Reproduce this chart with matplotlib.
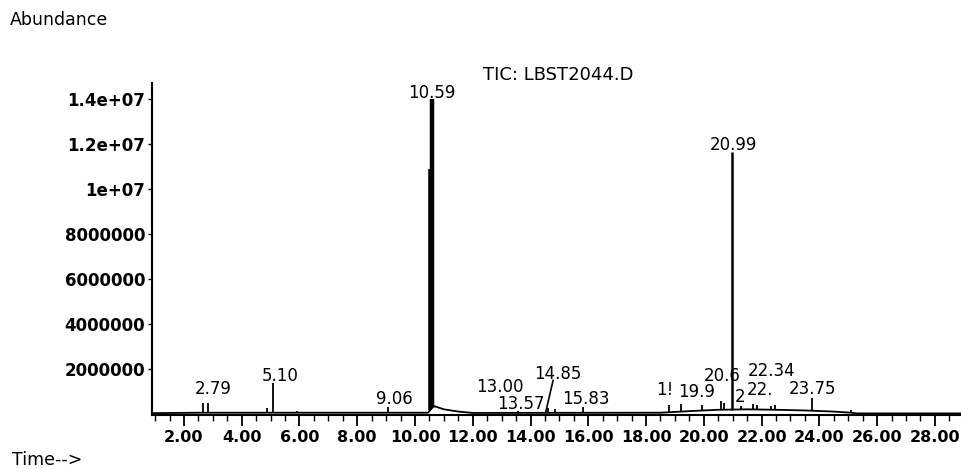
import numpy as np
import matplotlib
matplotlib.use("Agg")
import matplotlib.pyplot as plt
from matplotlib.ticker import MultipleLocator, FixedLocator

plt.rcParams['font.family'] = ['DejaVu Sans']

#-----------------------------------------------------------------------------
# Data (time in min, abundance in counts)
#-----------------------------------------------------------------------------
base_t = [0.9, 2.5, 5.0, 10.45, 10.65, 11.0, 11.5, 12.0, 18.5, 19.5, 20.5,
          21.5, 22.5, 23.5, 24.5, 25.1, 25.3, 28.94]
base_a = [0.03e6, 0.05e6, 0.05e6, 0.05e6, 0.35e6, 0.2e6, 0.1e6, 0.04e6,
          0.05e6, 0.12e6, 0.18e6, 0.2e6, 0.18e6, 0.15e6, 0.1e6, 0.05e6,
          0.02e6, 0.02e6]

peak_rt = [2.66, 2.83, 4.87, 5.10, 5.90, 9.06, 10.52, 10.59, 12.30, 13.00,
           13.57, 14.60, 14.85, 15.83, 18.80, 19.20, 19.95, 20.60, 20.70,
           20.99, 21.30, 21.70, 21.85, 22.34, 22.45, 23.75, 25.10]
peak_h = [0.48e6, 0.5e6, 0.28e6, 1.35e6, 0.12e6, 0.32e6, 10.9e6, 14.0e6,
          0.1e6, 0.1e6, 0.12e6, 0.25e6, 0.2e6, 0.3e6, 0.4e6, 0.45e6, 0.4e6,
          0.55e6, 0.5e6, 11.66e6, 0.35e6, 0.45e6, 0.4e6, 0.35e6, 0.4e6,
          0.72e6, 0.15e6]

# peak annotations (text, x, y) as printed on the report
label_txt = ["2.79", "5.10", "9.06", "10.59", "13.00", "13.57", "14.85",
             "15.83", "1!", "19.9", "2", "22.", "23.75", "20.6", "22.34",
             "20.99"]
label_x = [3.01, 5.33, 9.27, 10.59, 12.95, 13.65, 14.95, 15.92, 18.66,
           19.76, 21.25, 21.94, 23.78, 20.63, 22.36, 21.01]
label_y = [1.12e6, 1.70e6, 0.68e6, 14.28e6, 1.20e6, 0.45e6, 1.75e6, 0.68e6,
           1.08e6, 0.99e6, 0.77e6, 1.04e6, 1.12e6, 1.68e6, 1.92e6, 11.97e6]

ytick_vals = [2e6, 4e6, 6e6, 8e6, 10e6, 12e6, 14e6]
ytick_txt = ["2000000", "4000000", "6000000", "8000000", "1e+07", "1.2e+07",
             "1.4e+07"]
xtick_vals = [2, 4, 6, 8, 10, 12, 14, 16, 18, 20, 22, 24, 26, 28]

#-----------------------------------------------------------------------------
fig = plt.figure(figsize=(9.62, 4.69), dpi=100)
ax = fig.add_axes([0.158, 0.1151, 0.842, 0.708])

ax.plot(base_t, base_a, color='black', lw=1.3)
bottoms = np.interp(peak_rt, base_t, base_a)
widths = [3.2 if h > 13e6 else
          2.6 if h > 10e6 and rt < 15 else
          1.8 if h > 10e6 else 1.3 for rt, h in zip(peak_rt, peak_h)]
ax.vlines(peak_rt, bottoms, peak_h, colors='black', linewidths=widths)

for txt, x, y in zip(label_txt, label_x, label_y):
    ax.text(x, y, txt, fontsize=12, ha='center', va='center')
# leader line for the 14.85 label
ax.plot([14.78, 14.53], [1.48e6, 0.1e6], color='black', lw=1.2)

ax.set_xlim(0.893, 28.94)
ax.set_ylim(-0.053e6, 14.72e6)

ax.spines['top'].set_visible(False)
ax.spines['right'].set_visible(False)
ax.spines['left'].set_linewidth(1.5)
ax.spines['bottom'].set_linewidth(1.5)

ax.xaxis.set_major_locator(FixedLocator(xtick_vals))
ax.xaxis.set_minor_locator(MultipleLocator(0.5))
ax.set_xticklabels(["%.2f" % v for v in xtick_vals], fontsize=11.5,
                   fontweight='bold')
ax.set_yticks(ytick_vals)
ax.set_yticklabels(ytick_txt, fontsize=12, fontweight='bold')
ax.tick_params(axis='x', which='major', length=8, width=1.3, pad=3)
ax.tick_params(axis='x', which='minor', length=4, width=1.0)
ax.tick_params(axis='y', which='major', length=3, width=1.0, pad=2)

fig.text(558 / 962, 1 - 75 / 469, "TIC: LBST2044.D", fontsize=13,
         ha='center', va='center')
fig.text(10 / 962, 1 - 20 / 469, "Abundance", fontsize=12.5,
         ha='left', va='center')
fig.text(12 / 962, 1 - 460 / 469, "Time-->", fontsize=12.5,
         ha='left', va='center')

fig.savefig('out.png', dpi=100)
